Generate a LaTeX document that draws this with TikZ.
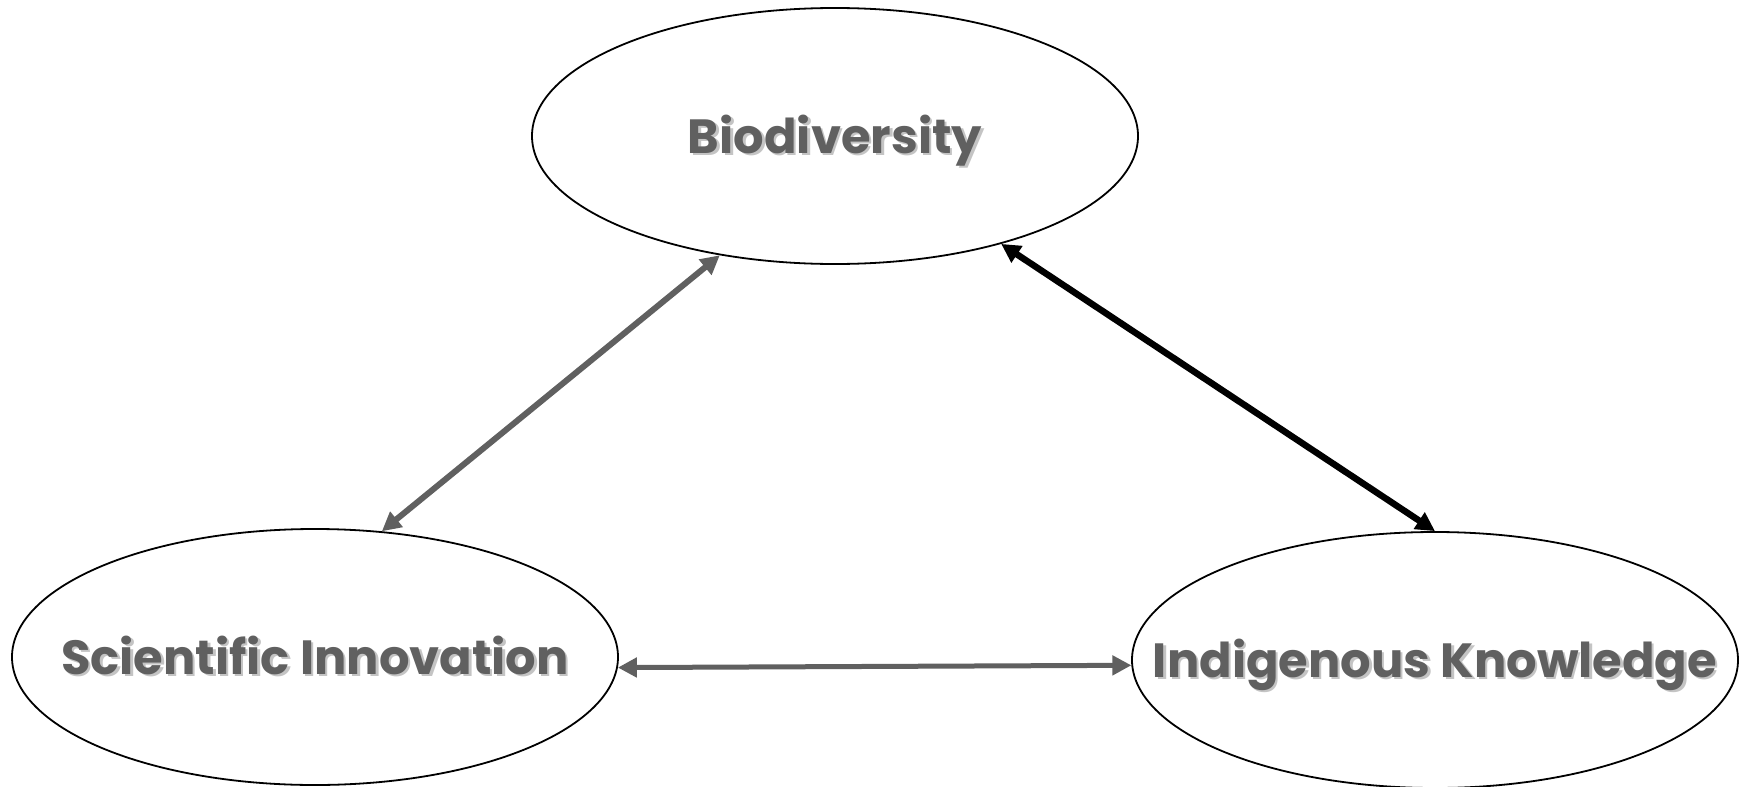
\documentclass[tikz,border=0pt]{standalone}
\usepackage{fontspec}
\setmainfont{Poppins}
\usetikzlibrary{shapes.geometric,arrows.meta}
\definecolor{inkgray}{HTML}{606060}
\definecolor{shadegray}{HTML}{C4C4C4}
\newcommand\shtext[1]{\rlap{\kern2.5pt\raisebox{-2.5pt}{\color{shadegray}#1}}#1}
\begin{document}
\begin{tikzpicture}[x=1pt,y=-1pt,
  blob/.style={draw,ellipse,line width=1.8pt,minimum width=606pt,minimum height=256pt,inner sep=0pt},
  lbl/.style={text=inkgray,font=\fontsize{48}{54}\selectfont\bfseries,inner sep=0pt,anchor=base,yshift=-17pt},
  link/.style={line width=6pt,inkgray,{Triangle[length=19pt,width=19pt]}-{Triangle[length=19pt,width=19pt]}}]
  \useasboundingbox (0,0) rectangle (1746,787);
  \node[blob] (bio) at (835,136) {};
  \node[blob] (sci) at (315,657) {};
  \node[blob] (ind) at (1435,660) {};
  \node[lbl] (biotext) at (bio.center) {\shtext{Biodiversity}};
  \node[lbl] (scitext) at (sci.center) {\shtext{Scientific Innovation}};
  \node[lbl] (indtext) at (ind.center) {\shtext{Indigenous Knowledge}};
  \draw[link] (bio.226) -- (sci.62);
  \draw[link,black,line width=6.5pt] (bio.327) -- (ind.north);
  \draw[link,line width=5pt] (sci.358.5) -- (ind.181);
\end{tikzpicture}
\end{document}
